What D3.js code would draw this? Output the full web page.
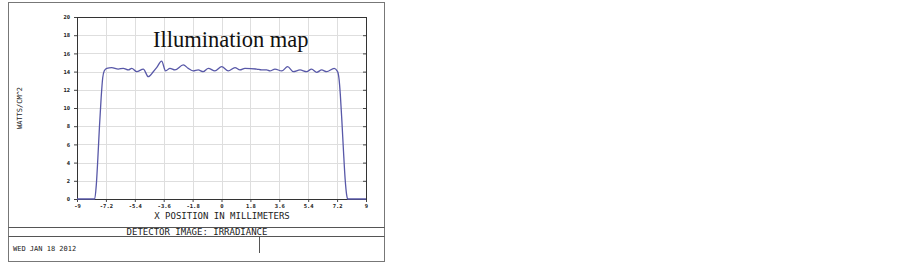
<!DOCTYPE html>
<html>
<head>
<meta charset="utf-8">
<script src="https://cdn.jsdelivr.net/npm/d3@7.9.0/dist/d3.min.js"></script>
<style>
  body { margin: 0; background: #fff; }
  svg text { fill: #222; }
</style>
</head>
<body>
<svg id="chart" width="903" height="266"></svg>
<script>
// irradiance profile (x in mm, y in watts/cm^2)
const xPos = [-9, -7.9, -7.8, -7.7, -7.6, -7.5, -7.4, -7.3, -7.15, -6.84, -6.43, -6.12, -5.8, -5.59, -5.28,
  -4.87, -4.56, -4.25, -4.04, -3.73, -3.48, -3.21, -2.9, -2.38, -2.07, -1.76, -1.45, -1.14, -0.82,
  -0.41, 0.01, 0.42, 0.84, 1.15, 1.46, 2.19, 2.5, 2.81, 3.02, 3.33, 3.75, 4.12, 4.47, 4.89, 5.3,
  5.61, 5.93, 6.24, 6.55, 7.02, 7.23, 7.32, 7.4, 7.5, 7.6, 7.7, 7.8, 7.86, 9];
const irradiance = [0, 0, 1.5, 4.5, 8, 11, 13.3, 14.1, 14.36, 14.43, 14.28, 14.36, 14.18, 14.36, 13.99,
  14.28, 13.44, 13.99, 14.43, 15.16, 14.07, 14.36, 14.18, 14.73, 14.36, 14.07, 14.18, 13.99, 14.36,
  14.07, 14.54, 14.07, 14.43, 14.18, 14.36, 14.28, 14.18, 14.18, 14.07, 14.28, 14.07, 14.54, 13.99, 14.18, 13.99,
  14.28, 13.92, 14.18, 13.99, 14.36, 14.0, 13.2, 11.5, 8.5, 5.2, 2.2, 0.4, 0, 0];
const xTicks = [-9, -7.2, -5.4, -3.6, -1.8, 0, 1.8, 3.6, 5.4, 7.2, 9];
const yTicks = [0, 2, 4, 6, 8, 10, 12, 14, 16, 18, 20];

const svg = d3.select('#chart');
const plotL = 77, plotR = 366, plotT = 17, plotB = 199;

let x = d3.scaleLinear().domain([-9, 9]).range([plotL, plotR]);
let y = d3.scaleLinear().domain([0, 20]).range([plotB, plotT]);

// outer frame + the bottom info strip
svg.append('rect').attr('x', 8.5).attr('y', 2.5).attr('width', 376).attr('height', 259)
  .attr('fill', 'none').attr('stroke', '#777');
svg.append('line').attr('x1', 8.5).attr('x2', 384.5).attr('y1', 227.5).attr('y2', 227.5).attr('stroke', '#555');
svg.append('line').attr('x1', 8.5).attr('x2', 384.5).attr('y1', 236.5).attr('y2', 236.5).attr('stroke', '#555');
svg.append('line').attr('x1', 259.5).attr('x2', 259.5).attr('y1', 236.5).attr('y2', 253).attr('stroke', '#555');

// grid
svg.append('g').selectAll('line').data(xTicks.slice(1, -1)).join('line')
  .attr('x1', d => Math.round(x(d)) + 0.5).attr('x2', d => Math.round(x(d)) + 0.5)
  .attr('y1', plotT).attr('y2', plotB).attr('stroke', '#dedede');
svg.append('g').selectAll('line').data(yTicks.slice(1, -1)).join('line')
  .attr('y1', d => Math.round(y(d)) + 0.5).attr('y2', d => Math.round(y(d)) + 0.5)
  .attr('x1', plotL).attr('x2', plotR).attr('stroke', '#dedede');

// axes
const axisFont = g => g.selectAll('text')
  .attr('font-family', 'DejaVu Sans Mono').attr('font-size', 5.5).attr('font-weight', 'bold').attr('fill', '#222');

svg.append('g').attr('transform', `translate(${plotL},0)`)
  .call(d3.axisLeft(y).tickValues(yTicks).tickSize(3).tickPadding(4).tickFormat(d3.format('d')))
  .call(g => g.select('.domain').remove())
  .call(g => g.selectAll('line').attr('stroke', '#444'))
  .call(axisFont);

svg.append('g').attr('transform', `translate(${plotR},0)`)
  .call(d3.axisLeft(y).tickValues(yTicks.slice(1, -1)).tickSize(3).tickFormat(''))
  .call(g => g.select('.domain').remove())
  .call(g => g.selectAll('line').attr('stroke', '#444'));

svg.append('g').attr('transform', `translate(0,${plotB})`)
  .call(d3.axisBottom(x).tickValues(xTicks).tickSize(3).tickPadding(2).tickFormat(d => d))
  .call(g => g.select('.domain').remove())
  .call(g => g.selectAll('line').attr('stroke', '#444'))
  .call(axisFont);

// plot border
svg.append('rect').attr('x', plotL + 0.5).attr('y', plotT + 0.5)
  .attr('width', plotR - plotL).attr('height', plotB - plotT)
  .attr('fill', 'none').attr('stroke', '#333');

// the profile line
let line = d3.line().x((d, i) => x(xPos[i])).y(d => y(d)).curve(d3.curveMonotoneX);
svg.append('path').attr('d', line(irradiance))
  .attr('fill', 'none').attr('stroke', '#5858a8').attr('stroke-width', 1.3);

// texts
svg.append('text').attr('x', 153).attr('y', 47)
  .attr('font-family', 'Liberation Serif').attr('font-size', 22.5)
  .style('fill', '#111').text('Illumination map');

svg.append('text').attr('x', 222).attr('y', 219).attr('text-anchor', 'middle')
  .attr('font-family', 'DejaVu Sans Mono').attr('font-size', 9)
  .text('X POSITION IN MILLIMETERS');

svg.append('text').attr('transform', 'translate(22,108) rotate(-90)').attr('text-anchor', 'middle')
  .attr('font-family', 'DejaVu Sans Mono').attr('font-size', 7)
  .text('WATTS/CM^2');

svg.append('text').attr('x', 197).attr('y', 235).attr('text-anchor', 'middle')
  .attr('font-family', 'DejaVu Sans Mono').attr('font-size', 9)
  .text('DETECTOR IMAGE: IRRADIANCE');

svg.append('text').attr('x', 13).attr('y', 251)
  .attr('font-family', 'DejaVu Sans Mono').attr('font-size', 7)
  .text('WED JAN 18 2012');
</script>
</body>
</html>
